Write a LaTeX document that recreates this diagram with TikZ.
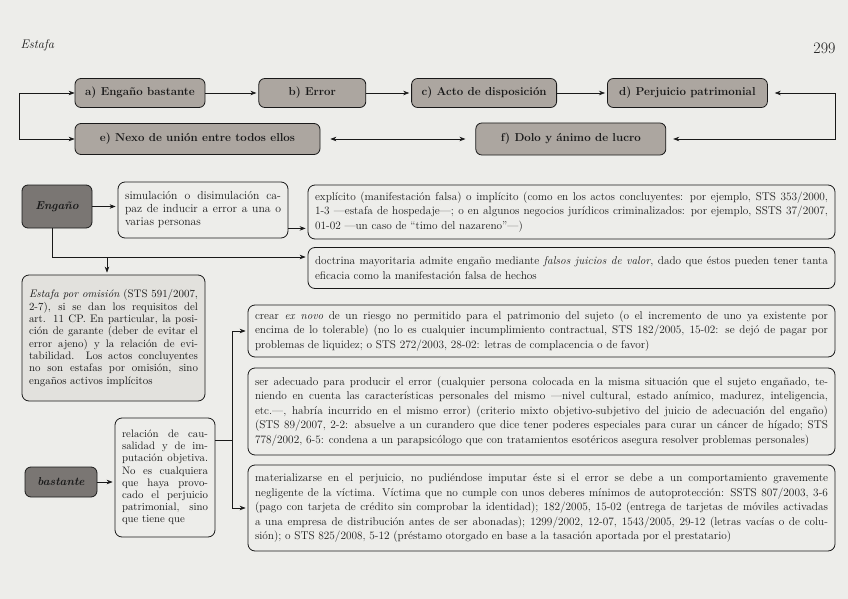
\documentclass[tikz,border=0pt]{standalone}
\usepackage{tikz}
\usetikzlibrary{arrows.meta, positioning, calc}
\definecolor{paper}{RGB}{237,237,234}
\definecolor{flowgray}{RGB}{172,166,160}
\definecolor{engfill}{RGB}{122,118,115}
\definecolor{lightfill}{RGB}{226,225,221}
\definecolor{ink}{RGB}{25,25,25}

\begin{document}
\begin{tikzpicture}[
        x=1pt, y=-1pt,
        flow/.style={draw=ink, line width=0.8pt, fill=flowgray, rounded corners=6pt,
                     minimum height=29pt, inner xsep=6pt, text=ink,
                     font=\bfseries\fontsize{11.5}{13}\selectfont},
        dark/.style={draw=ink, line width=0.8pt, fill=engfill, rounded corners=6pt, text=ink,
                     font=\bfseries\itshape\fontsize{11.5}{13}\selectfont},
        note/.style={draw=ink, line width=0.8pt, fill=paper, rounded corners=7pt,
                     align=justify, inner xsep=7pt, text=ink,
                     font=\fontsize{11.3}{14.5}\selectfont},
        arrow/.style={-{Stealth[length=6pt, width=4.5pt]}, draw=ink, line width=0.6pt, shorten >=2pt},
        twoway/.style={{Stealth[length=6pt, width=4.5pt]}-{Stealth[length=6pt, width=4.5pt]},
                       draw=ink, line width=0.6pt},
    ]
        \fill[paper] (0,0) rectangle (848,599);

        \node[anchor=west, text=ink, font=\itshape\fontsize{12.5}{14}\selectfont] (title) at (17,45) {Estafa};
        \node[anchor=east, text=ink, font=\fontsize{16}{18}\selectfont] (page) at (839,48) {299};

        \node[flow, minimum width=130pt] (a) at (140,93) {a) Engaño bastante};
        \node[flow, minimum width=107pt] (b) [right=53pt of a] {b) Error};
        \node[flow, minimum width=145pt] (c) [right=45pt of b] {c) Acto de disposición};
        \node[flow, minimum width=160pt] (d) [right=50pt of c] {d) Perjuicio patrimonial};
        \node[flow, minimum width=245pt, minimum height=31pt] (e) at (197.5,139) {e) Nexo de unión entre todos ellos};
        \node[flow, minimum width=190pt, minimum height=32pt] (f) [right=155pt of e] {f) Dolo y ánimo de lucro};

        \draw[arrow] (a) -- (b);
        \draw[arrow] (b) -- (c);
        \draw[arrow] (c) -- (d);
        \draw[twoway] (a.west) -- ++(-55,0) |- (e.west);
        \draw[twoway, shorten <=7pt, shorten >=7pt] (d.east) -- ++(67,0) |- (f.east);
        \draw[twoway, shorten <=10pt, shorten >=10pt] (e) -- (f);

        \node[dark, minimum width=70pt, minimum height=43pt] (eng) at (57,206.5) {Engaño};
        \node[note, text width=156pt, minimum height=56pt, font=\fontsize{11.7}{13}\selectfont] (sim) at (203,210)
            {simulación o disimulación ca-\linebreak paz de inducir a error a una o\linebreak varias personas};
        \node[note, text width=513pt, minimum height=54pt] (expl) at (571.5,212)
            {explícito (manifestación falsa) o implícito (como en los actos concluyentes: por ejemplo, STS 353/2000,\linebreak
             1-3 —estafa de hospedaje—; o en algunos negocios jurídicos criminalizados: por ejemplo, SSTS 37/2007,\linebreak
             01-02 —un caso de “timo del nazareno”—)};
        \node[note, text width=513pt, minimum height=41pt] (doc) at (571.5,268)
            {doctrina mayoritaria admite engaño mediante \emph{falsos juicios de valor}, dado que éstos pueden tener tanta\linebreak
             eficacia como la manifestación falsa de hechos};
        \node[note, fill=lightfill, text width=169pt, minimum height=126pt, font=\fontsize{10.9}{12.3}\selectfont] (omi) at (113.5,338)
            {\emph{Estafa por omisión} (STS 591/2007,\linebreak 2-7), si se dan los requisitos del\linebreak
             art. 11 CP. En particular, la posi-\linebreak ción de garante (deber de evitar el\linebreak
             error ajeno) y la relación de evi-\linebreak tabilidad. Los actos concluyentes\linebreak
             no son estafas por omisión, sino\linebreak engaños activos implícitos};

        \node[note, text width=573pt, minimum height=52pt] (crear) at (541.5,331)
            {crear \emph{ex novo} de un riesgo no permitido para el patrimonio del sujeto (o el incremento de uno ya existente por\linebreak
             encima de lo tolerable) (no lo es cualquier incumplimiento contractual, STS 182/2005, 15-02: se dejó de pagar por\linebreak
             problemas de liquidez; o STS 272/2003, 28-02: letras de complacencia o de favor)};
        \node[note, text width=573pt, minimum height=87pt] (adec) at (541.5,411.5)
            {ser adecuado para producir el error (cualquier persona colocada en la misma situación que el sujeto engañado, te-\linebreak
             niendo en cuenta las características personales del mismo —nivel cultural, estado anímico, madurez, inteligencia,\linebreak
             etc.—, habría incurrido en el mismo error) (criterio mixto objetivo-subjetivo del juicio de adecuación del engaño)\linebreak
             (STS 89/2007, 2-2: absuelve a un curandero que dice tener poderes especiales para curar un cáncer de hígado; STS\linebreak
             778/2002, 6-5: condena a un parapsicólogo que con tratamientos esotéricos asegura resolver problemas personales)};
        \node[note, text width=573pt, minimum height=86pt] (mat) at (541.5,508)
            {materializarse en el perjuicio, no pudiéndose imputar éste si el error se debe a un comportamiento gravemente\linebreak
             negligente de la víctima. Víctima que no cumple con unos deberes mínimos de autoprotección: SSTS 807/2003, 3-6\linebreak
             (pago con tarjeta de crédito sin comprobar la identidad); 182/2005, 15-02 (entrega de tarjetas de móviles activadas\linebreak
             a una empresa de distribución antes de ser abonadas); 1299/2002, 12-07, 1543/2005, 29-12 (letras vacías o de colu-\linebreak
             sión); o STS 825/2008, 5-12 (préstamo otorgado en base a la tasación aportada por el prestatario)};

        \node[dark, minimum width=72pt, minimum height=30pt] (bas) at (61,482) {bastante};
        \node[note, text width=86pt, minimum height=119pt, font=\fontsize{10.8}{12.2}\selectfont] (rel) at (165,477.5)
            {relación de cau-\linebreak salidad y de im-\linebreak putación objetiva.\linebreak No es cualquiera\linebreak
             que haya provo-\linebreak cado el perjuicio\linebreak patrimonial, sino\linebreak que tiene que};

        \coordinate (fork) at (107,257);
        \coordinate (simout) at ([yshift=10pt]sim.south east);
        \coordinate (rfork) at (232,440);

        \draw[arrow] (eng.east) -- (eng.east -| sim.west);
        \draw[arrow] (simout) -- (simout -| expl.west);
        \draw[arrow] ([xshift=-5pt]eng.south) |- (fork -| doc.west);
        \draw[arrow] (fork) -- (fork |- omi.north);
        \draw[arrow] (bas.east) -- (bas.east -| rel.west);
        \draw[arrow] (rel.east |- rfork) -- (rfork) |- (crear.west);
        \draw[arrow] (rfork) |- (mat.west);
    \end{tikzpicture}
\end{document}
